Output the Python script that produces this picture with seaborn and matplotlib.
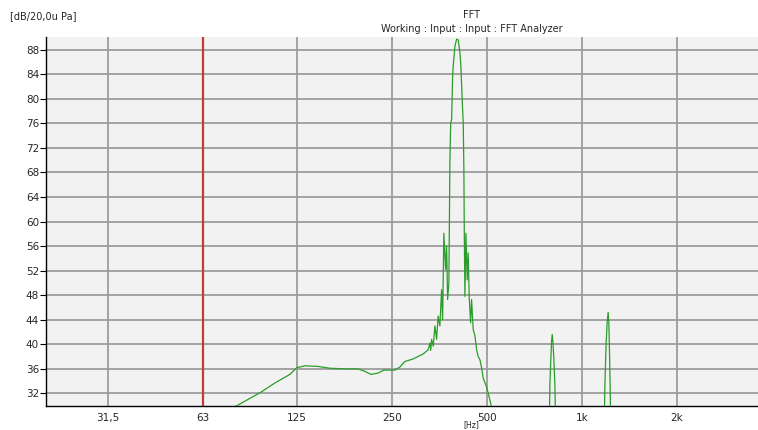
import numpy as np
import pandas as pd
import matplotlib
matplotlib.use("Agg")
import matplotlib.pyplot as plt
import seaborn as sns

# ---- data ----
freq_hz = [76.6, 81.2, 88.6, 95.3, 106.3, 118.6, 124.8, 132.4, 145.5, 158.9, 177.2,
           194.8, 205.0, 214.2, 225.5, 235.6, 255.3, 264.7, 274.5, 291.0, 313.0,
           325.4, 329.5, 331.5, 333.6, 337.6, 341.8, 346.0, 350.0, 354.4, 358.8, 361.5,
           364.8, 369.4, 372.2, 374.9, 378.4, 381.3, 383.5, 386.1, 388.9, 390.5, 395.4,
           400.3, 405.0, 410.2, 413.1, 417.0, 420.2, 422.2, 423.5, 425.4, 428.5, 432.6,
           435.7, 438.9, 443.5, 446.6, 451.9, 457.6, 463.3, 468.8, 474.5, 480.4,
           486.1, 498.0, 510.6, 529.5, 545.0,
           700.0, 786.8, 790.8, 796.6, 800.6, 804.4, 808.4, 814.0, 820.2, 826.0,
           1000.0, 1175.4, 1181.0, 1192.0, 1201.0, 1210.0, 1216.0, 1223.0, 1228.0, 1234.0,
           2000.0, 3700.0]
level_db = [29.4, 30.1, 31.2, 32.1, 33.7, 35.1, 36.2, 36.5, 36.4, 36.1, 36.0,
            36.0, 35.6, 35.1, 35.3, 35.8, 35.8, 36.3, 37.2, 37.6, 38.4,
            39.1, 40.2, 39.0, 40.8, 39.7, 43.0, 40.8, 44.6, 43.0, 48.9, 44.0,
            58.1, 52.2, 56.0, 47.3, 50.0, 70.0, 76.0, 76.6, 83.7, 85.3, 88.5,
            89.7, 89.6, 87.5, 85.3, 79.9, 76.0, 68.5, 58.0, 47.8, 58.1, 50.5,
            54.9, 47.8, 43.5, 47.3, 42.4, 41.4, 39.1, 38.0, 37.5, 36.2,
            34.5, 33.1, 30.9, 27.5, 24.0,
            24.0, 25.0, 33.4, 37.7, 40.5, 41.6, 40.5, 37.7, 33.4, 25.0,
            24.0, 25.0, 33.0, 40.0, 43.5, 45.2, 43.5, 38.0, 33.0, 25.0,
            24.0, 24.0]
tick_hz = [31.5, 63, 125, 250, 500, 1000, 2000]
tick_labels = ["31,5", "63", "125", "250", "500", "1k", "2k"]
y_ticks = list(range(32, 89, 4))
marker_hz = 63

df = pd.DataFrame({"freq": freq_hz, "level": level_db})

sns.set_style("whitegrid", {
    "axes.facecolor": "#f2f2f2",
    "grid.color": "#9c9c9c",
    "axes.edgecolor": "black",
})
plt.rcParams["font.family"] = ["DejaVu Sans"]

fig = plt.figure(figsize=(7.58, 4.30), dpi=100)
ax = fig.add_axes([46 / 758, 1 - 405.7 / 430, 1 - 46 / 758, (405.7 - 36.7) / 430])

sns.lineplot(data=df, x="freq", y="level", ax=ax, color="#2a9d2a", lw=0.9,
             estimator=None, sort=False, zorder=3)

ax.set_xscale("log")
ax.set_xlim(20, 3612)
ax.set_ylim(30, 90.1)
ax.set_xticks(tick_hz)
ax.set_xticklabels(tick_labels)
ax.xaxis.set_minor_locator(matplotlib.ticker.NullLocator())
ax.set_yticks(y_ticks)
ax.set_yticklabels([str(v) for v in y_ticks])
ax.grid(True, which="major", lw=1.3, color="#9c9c9c")
ax.set_axisbelow(True)
ax.axvline(marker_hz, color="#c23a3a", lw=1.6, zorder=2)

ax.tick_params(axis="y", length=4, width=0.8, color="black", labelsize=7.5, pad=1,
               left=True, direction="out")
ax.tick_params(axis="x", length=0, labelsize=7.5, pad=5)
ax.set_xlabel("")
ax.set_ylabel("")
for s in ["top", "right"]:
    ax.spines[s].set_visible(False)
ax.spines["left"].set_linewidth(1.0)
ax.spines["bottom"].set_linewidth(1.0)

fig.text(10 / 758, 1 - 16 / 430, "[dB/20,0u Pa]", fontsize=7, ha="left", va="center")
fig.text(472 / 758, 1 - 15 / 430, "FFT", fontsize=7, ha="center", va="center")
fig.text(472 / 758, 1 - 29 / 430, "Working : Input : Input : FFT Analyzer", fontsize=7,
         ha="center", va="center")
fig.text(471 / 758, 0.5 / 430, "[Hz]", fontsize=5.5, ha="center", va="bottom")

fig.savefig("out.png", dpi=100, facecolor="white")
